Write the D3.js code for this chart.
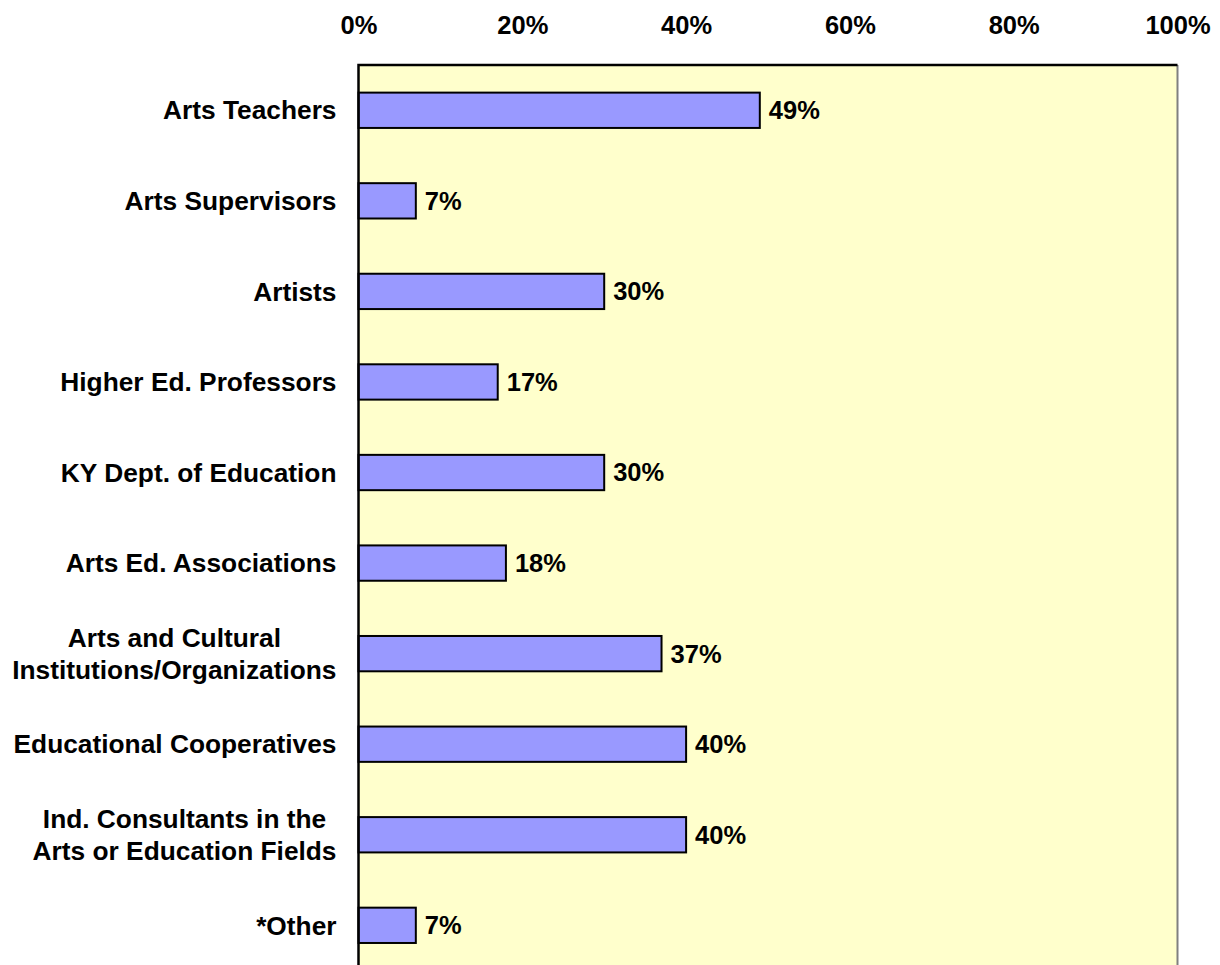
<!DOCTYPE html>
<html>
<head>
<meta charset="utf-8">
<script src="https://cdn.jsdelivr.net/npm/d3@7"></script>
<style>
  html, body { margin: 0; padding: 0; background: #ffffff; }
  svg { display: block; }
  text { font-family: "Liberation Sans", Arial, sans-serif; font-weight: bold; fill: #000; }
</style>
</head>
<body>
<svg id="chart" width="1220" height="965"></svg>
<script>
// Share of respondents naming each group
const categories = [
  "Arts Teachers",
  "Arts Supervisors",
  "Artists",
  "Higher Ed. Professors",
  "KY Dept. of Education",
  "Arts Ed. Associations",
  "Arts and Cultural\nInstitutions/Organizations",
  "Educational Cooperatives",
  "Ind. Consultants in the\nArts or Education Fields",
  "*Other"
];
const values = [49, 7, 30, 17, 30, 18, 37, 40, 40, 7];
const tickValues = [0, 20, 40, 60, 80, 100];
const tickLabels = ["0%", "20%", "40%", "60%", "80%", "100%"];

const svg = d3.select("#chart");
const plot = { left: 358.5, right: 1177.5, top: 65, bottom: 970.6 };
const fontSize = 25.5;
const catFontSize = 26.3;

const x = d3.scaleLinear().domain([0, 100]).range([plot.left, plot.right]);
const y = d3.scaleBand().domain(categories).range([plot.top, plot.bottom]).paddingInner(0.61).paddingOuter(0.305);

// Plot background
svg.append("rect")
  .attr("x", plot.left).attr("y", plot.top)
  .attr("width", plot.right - plot.left).attr("height", plot.bottom - plot.top)
  .attr("fill", "#FFFFCC");

// Bars
svg.append("g").selectAll("rect")
  .data(categories)
  .join("rect")
  .attr("x", x(0))
  .attr("y", d => y(d))
  .attr("width", (d, i) => x(values[i]) - x(0))
  .attr("height", y.bandwidth())
  .attr("fill", "#9999FF")
  .attr("stroke", "#000")
  .attr("stroke-width", 2);

// Plot frame: dark top/left/bottom, grey right edge
svg.append("line").attr("x1", plot.right).attr("x2", plot.right)
  .attr("y1", plot.top).attr("y2", plot.bottom)
  .attr("stroke", "#808080").attr("stroke-width", 2);
svg.append("path")
  .attr("d", `M${plot.right},${plot.top}H${plot.left}V${plot.bottom}H${plot.right}`)
  .attr("fill", "none").attr("stroke", "#000").attr("stroke-width", 2.5);

// Value axis along the top
const axis = d3.axisTop(x)
  .tickValues(tickValues)
  .tickFormat((d, i) => tickLabels[i])
  .tickSize(0)
  .tickPadding(0);
const axisG = svg.append("g").attr("transform", "translate(0,34)").call(axis);
axisG.select(".domain").remove();
axisG.selectAll("text")
  .attr("y", 0).attr("dy", 0)
  .style("font-size", fontSize + "px")
  .style("font-family", "'Liberation Sans', Arial, sans-serif")
  .style("font-weight", "bold")
  .attr("fill", "#000");

// Category labels: right-aligned blocks, multi-line labels centered within the block
const labelRight = 336.5;
const lineGap = 32.5;
const catG = svg.append("g");
categories.forEach(c => {
  const lines = c.split("\n");
  const cy = y(c) + y.bandwidth() / 2;
  const t = catG.append("text")
    .style("font-size", catFontSize + "px")
    .attr("text-anchor", "middle");
  lines.forEach((ln, j) => {
    t.append("tspan")
      .attr("y", cy + (j - (lines.length - 1) / 2) * lineGap)
      .attr("dy", "0.35em")
      .text(ln);
  });
  let maxW = 0;
  t.selectAll("tspan").each(function () {
    maxW = Math.max(maxW, this.getComputedTextLength());
  });
  t.selectAll("tspan").attr("x", labelRight - maxW / 2);
});

// Value labels at bar ends
svg.append("g").selectAll("text")
  .data(categories)
  .join("text")
  .attr("x", (d, i) => x(values[i]) + 9)
  .attr("y", d => y(d) + y.bandwidth() / 2)
  .attr("dy", "0.35em")
  .style("font-size", fontSize + "px")
  .text((d, i) => values[i] + "%");
</script>
</body>
</html>
